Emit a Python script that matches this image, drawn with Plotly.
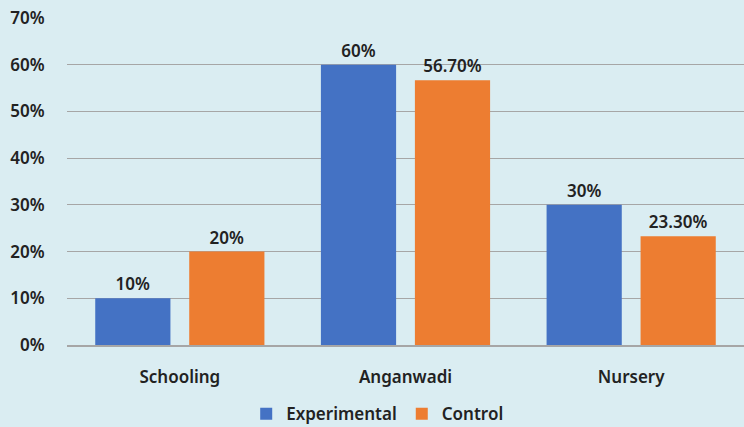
import plotly.graph_objects as go

categories = ["Schooling", "Anganwadi", "Nursery"]
experimental = [0.10, 0.60, 0.30]
control = [0.20, 0.567, 0.233]
experimental_labels = ["10%", "60%", "30%"]
control_labels = ["20%", "56.70%", "23.30%"]
tick_vals = [0, 0.1, 0.2, 0.3, 0.4, 0.5, 0.6, 0.7]
tick_text = ["0%", "10%", "20%", "30%", "40%", "50%", "60%", "70%"]

FONT = dict(family="Noto Sans", size=17, color="#222222", weight=600)

fig = go.Figure()
fig.add_trace(go.Bar(
    name="Experimental", x=categories, y=experimental,
    marker=dict(color="#4472C4", line=dict(width=0)),
    text=experimental_labels, textposition="outside",
    textfont=FONT, cliponaxis=False,
))
fig.add_trace(go.Bar(
    name="Control", x=categories, y=control,
    marker=dict(color="#ED7D31", line=dict(width=0)),
    text=control_labels, textposition="outside",
    textfont=FONT, cliponaxis=False,
))

fig.update_layout(
    width=744, height=427,
    margin=dict(l=67, r=0, t=18, b=82),
    paper_bgcolor="#DAEDF2", plot_bgcolor="#DAEDF2",
    barmode="group", bargap=0.167, bargroupgap=0.2,
    font=FONT,
    showlegend=True,
    legend=dict(orientation="h", xref="container", yref="container",
                x=0.507, xanchor="center", y=0.03, yanchor="middle",
                font=FONT, itemwidth=30, traceorder="normal"),
    xaxis=dict(showgrid=False, ticks="outside", ticklen=16,
               tickcolor="rgba(0,0,0,0)", tickfont=FONT,
               showline=True, linecolor="#A6A6A6", linewidth=1.5),
    yaxis=dict(range=[0, 0.7], tickvals=tick_vals, ticktext=tick_text,
               showgrid=True, gridcolor="#A6A6A6", gridwidth=1.2,
               zeroline=False, ticks="outside", ticklen=18,
               tickcolor="rgba(0,0,0,0)", tickfont=FONT),
)

fig.write_html("out.html")
